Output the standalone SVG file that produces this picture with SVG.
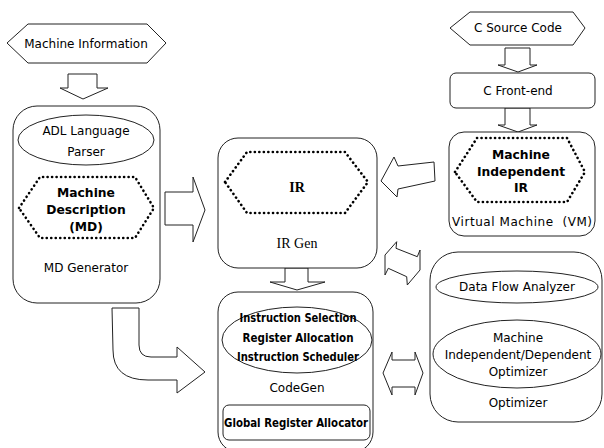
<svg xmlns="http://www.w3.org/2000/svg" width="604" height="448" viewBox="0 0 604 448">
<style>
.box{fill:#fff;stroke:#222;stroke-width:1}
.dot{fill:none;stroke:#000;stroke-width:2.6;stroke-linecap:round;stroke-dasharray:0.1 4.4}
.arr{fill:#fff;stroke:#222;stroke-width:1;stroke-linejoin:miter}
.t{font-family:"DejaVu Sans",Verdana,sans-serif;font-size:12px;fill:#000;text-anchor:middle;dominant-baseline:central}
.b{font-family:"DejaVu Sans",Verdana,sans-serif;font-size:12.3px;font-weight:bold;fill:#000;text-anchor:middle;dominant-baseline:central}
.s{font-family:"Liberation Serif","Times New Roman",serif;fill:#000;text-anchor:middle;dominant-baseline:central}
</style>
<rect width="604" height="448" fill="#fff"/>
<g id="connectors">
  <polygon class="arr" points="68,74 97,74 97,88 108,88 83,99 60,88 68,88"/>
  <polygon class="arr" points="165,192 193,192 193,177 205,210 193,242 193,225 165,225"/>
  <path class="arr" d="M112,308 H139 V345 Q139,357 151,357 H177 V347 L205,372 L177,393 V380 H148 Q113,380 113,350 Z"/>
  <polygon class="arr" points="505,48 530,48 530,65 537,65 518,72 498,65 505,65"/>
  <polygon class="arr" points="505,108 530,108 530,125 537,125 518,132 498,125 505,125"/>
  <polygon class="arr" points="381,181 394,157 398,166 434,162 435,181 398,189 397,197"/>
  <polygon class="arr" points="285,268 308,268 308,282 325,282 297,290 270,282 285,282"/>
  <polygon class="arr" points="396.7,241.7 396,248.3 417.3,256.7 420,250 420,270 407.3,285 406.7,276.7 388.3,268.3 385,275 385,255"/>
  <polygon class="arr" points="383,373 392,352 392,360 415,360 415,352 423,373 415,395 415,387 392,387 392,395"/>
</g>
<g id="machine-information">
  <polygon class="box" points="7,43 28,24 147,24 166,43 147,63 28,63"/>
  <text class="t" x="86" y="44">Machine Information</text>
</g>
<g id="md-generator">
  <rect class="box" x="13" y="106" width="147" height="197" rx="24"/>
  <ellipse class="box" cx="86" cy="140" rx="68" ry="25"/>
  <text class="t" x="86" y="131" font-size="12.8">ADL Language</text>
  <text class="t" x="86" y="152">Parser</text>
  <polygon class="dot" points="19,208 40,177 135,177 154,208 135,238 40,238"/>
  <text class="b" x="86" y="193">Machine</text>
  <text class="b" x="86" y="210">Description</text>
  <text class="b" x="86" y="227">(MD)</text>
  <text class="t" x="86" y="268">MD Generator</text>
</g>
<g id="ir-gen">
  <rect class="box" x="218" y="138" width="159" height="130" rx="20"/>
  <polygon class="dot" points="225,182 247,152 345,152 368,182 345,213 247,213"/>
  <text class="s" x="297" y="187" font-size="14" font-weight="bold">IR</text>
  <text class="s" x="297" y="243" font-size="14">IR Gen</text>
</g>
<g id="c-source-code">
  <polygon class="box" points="450,28 470,12 573,12 585,28 573,45 470,45"/>
  <text class="t" x="518" y="28">C Source Code</text>
</g>
<g id="c-front-end">
  <rect class="box" x="450" y="73" width="145" height="35" rx="6"/>
  <text class="t" x="518" y="91" font-size="13">C Front-end</text>
</g>
<g id="virtual-machine">
  <rect class="box" x="449" y="132" width="146" height="104" rx="15"/>
  <polygon class="dot" points="455,172 477,138 567,138 585,172 567,202 477,202"/>
  <text class="b" x="521" y="155">Machine</text>
  <text class="b" x="521" y="172">Independent</text>
  <text class="b" x="521" y="188">IR</text>
  <text class="t" x="522" y="222" font-size="12.5" textLength="140" xml:space="preserve">Virtual Machine  (VM)</text>
</g>
<g id="codegen">
  <rect class="box" x="218" y="292" width="155" height="160" rx="20"/>
  <ellipse class="box" cx="297" cy="340" rx="75" ry="33"/>
  <text class="b" x="298" y="318" font-size="11" textLength="117" lengthAdjust="spacingAndGlyphs">Instruction Selection</text>
  <text class="b" x="298" y="338" font-size="11" textLength="111" lengthAdjust="spacingAndGlyphs">Register Allocation</text>
  <text class="b" x="298" y="357" font-size="11" textLength="122" lengthAdjust="spacingAndGlyphs">Instruction Scheduler</text>
  <text class="t" x="297" y="388">CodeGen</text>
  <rect class="box" x="223" y="405" width="147" height="35" rx="6"/>
  <text class="b" x="296" y="423" font-size="11" textLength="144" lengthAdjust="spacingAndGlyphs">Global Register Allocator</text>
</g>
<g id="optimizer">
  <rect class="box" x="430" y="252" width="172" height="170" rx="28"/>
  <ellipse class="box" cx="517" cy="287" rx="81" ry="16"/>
  <text class="t" x="517" y="287">Data Flow Analyzer</text>
  <ellipse class="box" cx="517" cy="354" rx="84" ry="34"/>
  <text class="t" x="518" y="338">Machine</text>
  <text class="t" x="518" y="355">Independent/Dependent</text>
  <text class="t" x="518" y="372">Optimizer</text>
  <text class="t" x="518" y="403">Optimizer</text>
</g>
</svg>
